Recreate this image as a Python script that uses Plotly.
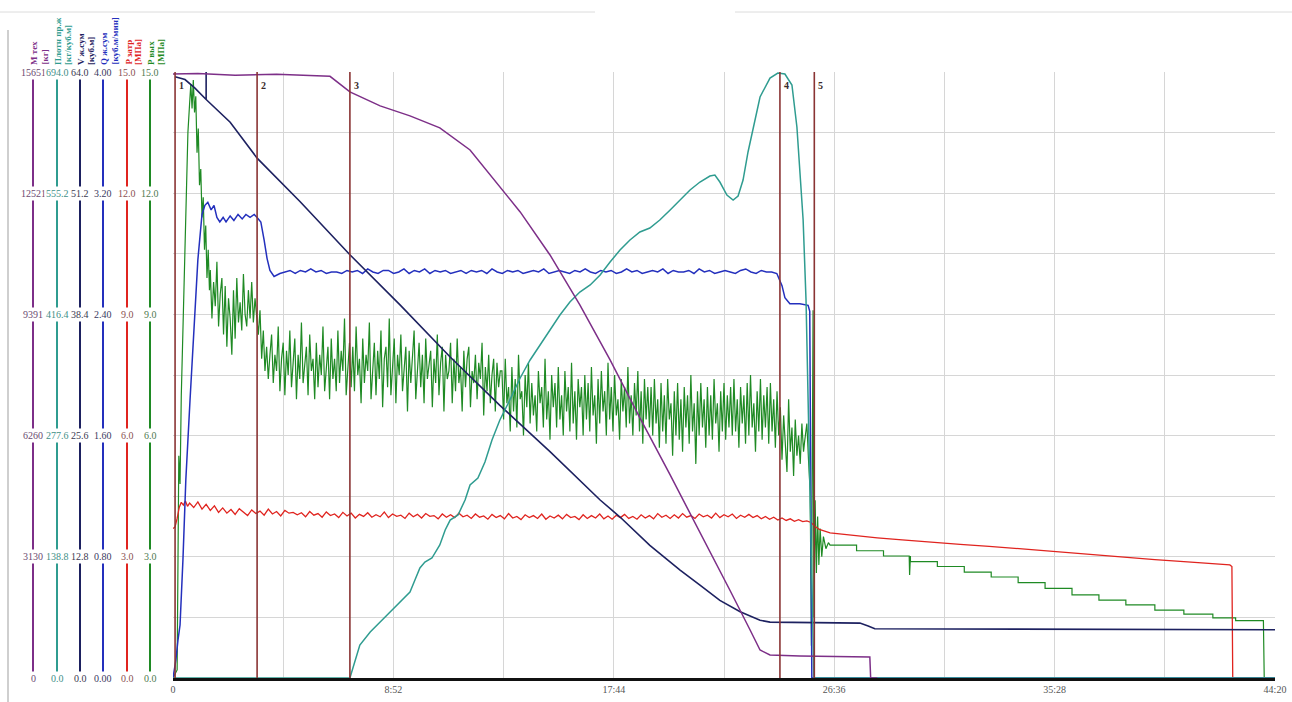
import plotly.graph_objects as go

W, H = 1292, 702
PLOT_TOP, PLOT_BOTTOM = 72, 678
PLOT_LEFT, PLOT_RIGHT = 173, 1275


def grid(start, step, n):
    """Regular sampling times for a logged channel."""
    return [start + step * i for i in range(n)]


# ---------------- time axis (seconds) ----------------
X_TICK_T = [0, 266, 532, 798, 1064, 1330, 1596, 1862, 2128, 2394, 2660]
X_TICK_TEXT = ["0", "", "8:52", "", "17:44", "", "26:36", "", "35:28", "", "44:20"]

# stage markers
EVENT_T = [5, 203, 427, 1465, 1548]
EVENT_LABELS = ["1", "2", "3", "4", "5"]

# ---------------- M тех, kg ----------------
M_T = [0, 60, 150, 250, 330, 379, 427, 500, 572, 644, 717, 765, 838, 910, 982,
       1055, 1127, 1200, 1272, 1344, 1393, 1417, 1441, 1513, 1682, 1684, 1700]
M_V = [15600, 15610, 15570, 15590, 15560, 15540, 15137, 14775, 14517, 14207, 13638,
       12993, 12037, 10926, 9635, 8214, 6716, 5244, 3771, 2273, 1240, 723, 594, 568,
       542, 0, 0]

# ---------------- Плотн пр.ж, kg/m3 ----------------
RHO_T = [0, 427, 451, 476, 500, 524, 548, 572, 584, 596, 608, 625, 644, 657, 669, 688,
         705, 717, 736, 753, 770, 789, 813, 838, 862, 886, 910, 934, 958, 982, 1007,
         1031, 1055, 1079, 1103, 1127, 1151, 1175, 1200, 1224, 1248, 1272, 1296, 1308,
         1320, 1337, 1352, 1364, 1376, 1388, 1405, 1417, 1441, 1460, 1477, 1494, 1506,
         1513, 1521, 1528, 1535, 1542, 1547, 2660]
RHO_V = [0, 0, 37.8, 52.7, 64.1, 75.6, 85.9, 98.5, 112.2, 126.0, 132.8, 137.4, 152.3,
         169.5, 180.9, 186.7, 203.8, 221.0, 229.0, 247.4, 272.6, 295.5, 318.4, 343.6,
         364.2, 381.4, 398.5, 415.7, 430.6, 442.0, 450.1, 461.5, 476.4, 490.1, 501.6,
         510.8, 515.3, 524.5, 536.0, 547.4, 558.9, 568.0, 574.9, 576.0, 568.0, 553.1,
         547.4, 552.0, 570.3, 602.4, 641.3, 665.4, 687.1, 692.8, 691.7, 679.1, 631.0,
         581.8, 524.5, 432.9, 284.0, 123.7, 0, 0]

# ---------------- V ж.сум, m3 ----------------
V_T = [5, 29, 53, 80, 80, 80, 138, 203, 307, 427, 548, 669, 789, 910, 1031, 1079,
       1151, 1224, 1272, 1320, 1369, 1417, 1441, 1658, 1678, 1694, 2660]
V_V = [63.5, 63.2, 62.3, 61.1, 64.0, 61.1, 58.7, 54.9, 50.3, 44.7, 39.4, 33.9, 28.8,
       23.9, 18.8, 17.0, 14.0, 11.4, 9.8, 8.2, 7.0, 6.1, 5.9, 5.8, 5.5, 5.2, 5.1]

# ---------------- Q ж.сум, m3/min ----------------
Q_RISE_T = [0, 7, 12, 17, 24, 31, 41, 51, 60, 70, 77, 84, 92, 99, 106, 113, 121, 128,
            138, 147, 157, 167, 176, 186, 196, 203, 212, 220, 227, 234, 244, 258]
Q_RISE_V = [0, 0.12, 0.25, 0.35, 0.78, 1.31, 1.83, 2.36, 2.76, 3.06, 3.12, 3.14, 3.09,
            3.12, 3.04, 3.01, 3.04, 3.01, 3.05, 3.02, 3.06, 3.03, 3.06, 3.04, 3.06,
            3.04, 3.01, 2.89, 2.77, 2.69, 2.65, 2.67]
Q_PLATEAU_START, Q_PLATEAU_STEP = 270, 12.5
Q_PLATEAU_V = [2.68, 2.69, 2.67, 2.69, 2.68, 2.70, 2.68, 2.69, 2.67, 2.68, 2.68, 2.67,
               2.69, 2.68, 2.69, 2.67, 2.70, 2.68, 2.67, 2.69, 2.69, 2.67, 2.68, 2.70,
               2.67, 2.69, 2.68, 2.70, 2.67, 2.69, 2.68, 2.69, 2.67, 2.68, 2.69, 2.67,
               2.69, 2.68, 2.69, 2.67, 2.70, 2.68, 2.67, 2.69, 2.68, 2.69, 2.67, 2.68,
               2.69, 2.68, 2.70, 2.67, 2.68, 2.69, 2.68, 2.67, 2.69, 2.68, 2.70, 2.68,
               2.67, 2.69, 2.68, 2.69, 2.67, 2.68, 2.70, 2.68, 2.69, 2.67, 2.68, 2.69,
               2.68, 2.70, 2.67, 2.69, 2.68, 2.68, 2.69, 2.67, 2.70, 2.68, 2.69, 2.67,
               2.68, 2.69, 2.68, 2.67, 2.69, 2.70, 2.68, 2.67, 2.69, 2.68, 2.68, 2.67]
Q_END_T = [1470, 1477, 1489, 1513, 1533, 1537, 1542, 2660]
Q_END_V = [2.59, 2.51, 2.47, 2.47, 2.46, 2.42, 0, 0]

# ---------------- P затр, MPa ----------------
PA_START_T = [0, 5, 10, 15, 20, 25, 30, 35]
PA_START_V = [3.70, 3.74, 3.95, 4.22, 4.35, 4.28, 4.38, 4.25]
PA_LOG_START, PA_LOG_STEP = 40, 10
PA_LOG_V = [
    4.33, 4.22, 4.36, 4.18, 4.30, 4.15, 4.26,
    4.10, 4.21, 4.08, 4.17, 4.05, 4.19, 4.11, 4.02, 4.16, 4.07, 4.13, 4.03, 4.18, 4.06,
    4.12, 4.01, 4.15, 4.08, 4.10, 4.04,
    4.09, 3.99, 4.12, 4.03, 4.07, 3.98, 4.11, 4.02, 4.06, 3.97, 4.10, 4.01, 4.08, 3.96,
    4.05, 4.00, 4.09, 3.98, 4.04, 3.99, 4.11, 3.97, 4.06, 4.00, 4.03, 3.95, 4.08, 3.99,
    4.05, 3.96, 4.07, 4.00, 4.02, 3.94, 4.06, 3.98, 4.04, 3.97, 4.08, 3.99,
    4.03, 3.95, 4.06, 3.98, 4.01, 3.93, 4.05, 3.97, 4.02, 3.94, 4.07, 3.96, 4.00, 3.92,
    4.04, 3.97, 4.02, 3.95, 4.06, 3.93, 4.01, 3.96, 4.03, 3.94, 4.05, 3.97, 4.00, 3.92,
    4.04, 3.95, 4.02, 3.96, 4.06, 3.94, 4.01, 3.93, 4.03, 3.97, 4.05, 3.95, 4.00, 3.93,
    4.04, 3.96, 4.02, 3.94, 4.07, 3.98, 4.03, 3.95,
    4.04, 3.96, 4.07, 3.98, 4.02, 3.95, 4.06, 3.99, 4.03, 3.96, 4.08, 3.97, 4.04, 3.99,
    4.06, 3.95, 4.03, 3.98, 4.05, 3.97, 4.02, 3.94, 4.00, 3.93, 3.98, 3.91, 3.96, 3.90,
    3.94, 3.88, 3.92, 3.87, 3.89,
]
PA_END_T = [1540, 1550, 1560, 1586, 1650, 1700, 1760, 1830, 1900, 1970, 2040, 2110,
            2180, 2237, 2300, 2370, 2440, 2500, 2551, 2556, 2558, 2660]
PA_END_V = [3.85, 3.75, 3.68, 3.59, 3.52, 3.47, 3.42, 3.36, 3.31, 3.26, 3.20, 3.14,
            3.08, 3.04, 2.98, 2.93, 2.88, 2.84, 2.80, 2.76, 0, 0]

# ---------------- P вых, MPa ----------------
PO_START_T = [0, 10, 14, 17, 20, 24, 28, 32, 36, 40, 43, 46, 49, 52, 55, 58, 61, 64,
              67, 70, 73, 76, 79, 82, 85, 88]
PO_START_V = [0, 0.2, 5.5, 4.8, 7.0, 8.6, 10.5, 12.0, 13.5, 14.2, 14.7, 14.1, 14.8,
              14.0, 14.4, 13.0, 13.6, 12.2, 12.6, 11.4, 11.9, 10.6, 11.2, 9.9, 10.6, 9.6]
PO_LOG_START, PO_LOG_STEP = 90, 4
PO_LOG_V = [
    # after the first peak
    10.1, 8.9, 9.8, 9.2, 10.3, 8.7, 9.5, 9.9, 8.5, 9.7, 8.2, 9.4, 8.9, 8.0, 9.6, 8.4,
    9.9, 8.8, 9.3, 8.6, 10.0, 9.0, 8.7, 9.6, 8.9, 9.8, 8.8, 9.4,
    9.0, 8.5, 9.1, 7.9, 8.6, 7.6, 8.2, 7.4, 8.0,
    # stage 2
    8.5, 7.3, 8.0, 7.6, 8.7, 7.1, 7.9, 8.3, 7.0, 8.1, 7.5, 8.6, 7.2, 7.8, 8.4, 6.9,
    8.0, 7.4, 8.8, 7.3, 7.7, 8.2, 7.0, 8.5, 7.6, 7.9, 6.9, 8.3, 7.2, 8.0, 7.5, 8.7,
    7.1, 7.8, 8.2, 6.9, 8.4, 7.4, 7.9, 7.1, 8.6, 7.3, 8.1, 7.6, 8.9, 7.0, 7.8, 8.3, 7.2,
    # stage 3
    8.2, 7.1, 8.7, 7.5, 7.9, 6.8, 8.4, 7.3, 8.0, 7.6, 8.8, 6.9, 7.8, 8.3, 7.0, 8.1,
    7.4, 8.6, 6.7, 7.9, 8.2, 7.2, 8.9, 7.0, 7.7, 8.4, 6.8, 8.0, 7.5, 8.5, 7.1, 7.8,
    8.2, 6.6, 8.1, 7.3, 7.9, 8.6, 6.9, 7.6, 8.3, 7.2, 8.0, 6.8, 8.4, 7.4, 7.7, 8.1,
    6.7, 7.9, 7.3, 8.5, 7.0, 7.8, 8.2, 6.6, 8.0, 7.4, 7.6, 8.3, 6.8, 7.9, 7.1, 8.4,
    7.3, 7.7, 6.6, 8.1, 7.2, 7.9, 8.2, 6.7, 7.6, 7.3, 8.0, 6.9, 7.8, 7.4, 8.3, 6.5,
    7.7, 7.1, 8.0, 6.8, 7.5, 7.9, 6.6, 7.8, 7.2, 7.6,
    7.6, 6.4, 7.9, 6.8, 7.2, 6.1, 7.7, 6.6, 7.4, 6.2, 8.0, 6.9, 7.1, 6.0, 7.5, 6.7,
    7.8, 6.3, 7.3, 6.5, 7.0, 6.1, 7.6, 6.8, 7.2, 6.2, 7.9, 6.4, 7.1, 5.9, 7.5, 6.7,
    7.3, 6.2, 7.7, 6.4, 7.0, 6.0, 7.6, 6.6, 7.2, 6.1, 7.8, 6.3, 7.1, 5.9, 7.4, 6.7,
    7.2, 6.0, 7.5, 6.4, 7.3, 6.1, 7.7, 6.5, 7.0, 5.8, 7.4, 6.3, 7.6, 6.6, 7.1, 6.0,
    7.8, 6.4, 7.2, 6.1, 7.5, 6.5, 6.9, 5.9, 7.4, 6.6, 7.2, 6.2, 7.7, 6.3, 7.0, 6.0,
    7.3, 6.5, 7.6, 6.1, 7.1, 5.8, 7.4, 6.4, 7.2, 6.2,
    7.2, 6.0, 7.4, 6.3, 6.9, 5.7, 7.3, 6.1, 7.0, 5.8, 7.4, 6.4, 6.8, 5.5, 7.1, 6.0,
    7.3, 5.9, 6.9, 5.6, 7.2, 6.2, 7.0, 5.8, 7.5, 6.1, 6.8, 5.3, 7.1, 6.0, 7.3, 6.2,
    6.9, 5.7, 7.2, 6.0, 7.0, 5.9, 7.4, 6.3, 6.8, 5.6, 7.1, 6.1, 7.3, 5.9, 7.0, 6.2,
    7.2, 6.0, 7.4, 6.1, 6.9, 5.7, 7.2, 6.3, 7.0, 5.8, 7.3, 6.0, 7.5, 6.2, 6.8, 5.6,
    7.1, 6.1, 7.4, 5.9, 7.0, 6.2, 7.2, 5.8, 7.3, 6.1, 6.9, 5.7, 7.1, 6.0,
    # stage 4
    6.7, 5.4, 6.5, 5.8, 5.1, 6.9, 5.6, 6.2, 5.0, 6.4, 5.5, 6.0, 5.3, 6.3, 5.6,
]
PO_END_T = [1524, 1530, 1534, 1538, 1541, 1545, 1547, 1550, 1553, 1556, 1559, 1562,
            1566, 1570, 1576, 1582]
PO_END_V = [5.8, 6.3, 5.4, 4.6, 0.8, 9.1, 1.5, 4.4, 2.6, 4.0, 2.8, 3.7, 3.0, 3.5,
            3.2, 3.35]
PO_STEP_T = [1586, 1650, 1650, 1715, 1715, 1777, 1778, 1780, 1780, 1845, 1845, 1910,
             1910, 1975, 1975, 2040, 2040, 2105, 2105, 2170, 2170, 2235, 2235, 2300,
             2300, 2370, 2370, 2440, 2440, 2510, 2510, 2565, 2565, 2632, 2634, 2660]
PO_STEP_V = [3.29, 3.29, 3.15, 3.15, 3.02, 3.02, 2.55, 3.02, 2.88, 2.88, 2.76, 2.76,
             2.62, 2.62, 2.50, 2.50, 2.36, 2.36, 2.22, 2.22, 2.06, 2.06, 1.93, 1.93,
             1.81, 1.81, 1.68, 1.68, 1.58, 1.58, 1.49, 1.49, 1.42, 1.42, 0, 0]

# ---------------- left scale columns ----------------
M_TICKS = ["0", "3130", "6260", "9391", "12521", "15651"]
RHO_TICKS = ["0.0", "138.8", "277.6", "416.4", "555.2", "694.0"]
V_TICKS = ["0.0", "12.8", "25.6", "38.4", "51.2", "64.0"]
Q_TICKS = ["0.00", "0.80", "1.60", "2.40", "3.20", "4.00"]
PA_TICKS = ["0.0", "3.0", "6.0", "9.0", "12.0", "15.0"]
PO_TICKS = ["0.0", "3.0", "6.0", "9.0", "12.0", "15.0"]

PURPLE = "#7d2f88"
TEAL = "#2f9c90"
NAVY = "#1d2160"
BLUE = "#2430bd"
RED = "#e0241f"
GREEN = "#1f8a24"
EVENT_COLOR = "#8a3434"
GRID = "#d6d6d6"
FONT = "Liberation Serif, Times New Roman, serif"

# column definitions: axis id, pixel x, colour, name, unit, ticks, range max, tick colour
COLUMNS = [
    ("y6", 33, PURPLE, "М тех", "[кг]", M_TICKS, 15651, "#6a4a70"),
    ("y5", 57, TEAL, "Плотн пр.ж", "[кг/куб.м]", RHO_TICKS, 694.0, "#3f8f88"),
    ("y4", 80, NAVY, "V ж.сум", "[куб.м]", V_TICKS, 64.0, "#3a3a50"),
    ("y3", 103, BLUE, "Q ж.сум", "[куб.м/мин]", Q_TICKS, 4.0, "#3a3a60"),
    ("y2", 127, RED, "P затр", "[МПа]", PA_TICKS, 15.0, "#8a5050"),
    ("y", 150, GREEN, "P вых", "[МПа]", PO_TICKS, 15.0, "#4f7a50"),
]

pa_t = PA_START_T + grid(PA_LOG_START, PA_LOG_STEP, len(PA_LOG_V)) + PA_END_T
pa_v = PA_START_V + PA_LOG_V + PA_END_V
po_t = PO_START_T + grid(PO_LOG_START, PO_LOG_STEP, len(PO_LOG_V)) + PO_END_T + PO_STEP_T
po_v = PO_START_V + PO_LOG_V + PO_END_V + PO_STEP_V
q_t = Q_RISE_T + grid(Q_PLATEAU_START, Q_PLATEAU_STEP, len(Q_PLATEAU_V)) + Q_END_T
q_v = Q_RISE_V + Q_PLATEAU_V + Q_END_V

fig = go.Figure()


def add_line(t, v, color, axis, width=1.4):
    fig.add_trace(go.Scatter(x=t, y=v, mode="lines", yaxis=axis,
                             line=dict(color=color, width=width),
                             hoverinfo="skip", showlegend=False))


add_line(RHO_T, RHO_V, TEAL, "y5", 1.5)
add_line(M_T, M_V, PURPLE, "y6", 1.5)
add_line(po_t, po_v, GREEN, "y", 1.2)
add_line(pa_t, pa_v, RED, "y2", 1.3)
add_line(q_t, q_v, BLUE, "y3", 1.5)
add_line(V_T, V_V, NAVY, "y4", 1.6)

layout_axes = {}
for axis_id, px, color, name, unit, ticks, top, tick_color in COLUMNS:
    key = "yaxis" if axis_id == "y" else "yaxis" + axis_id[1:]
    cfg = dict(range=[0, top], anchor="free", position=px / W, showline=True,
               linecolor=color, linewidth=2, showticklabels=False, ticks="",
               zeroline=False, fixedrange=True, automargin=False)
    if axis_id == "y":
        cfg.update(showgrid=True, gridcolor=GRID, gridwidth=1, tickmode="linear",
                   tick0=0, dtick=1.5)
    else:
        cfg.update(overlaying="y", showgrid=False)
    layout_axes[key] = cfg

annotations = []
header_y = 1 + (PLOT_TOP - 67) / (PLOT_BOTTOM - PLOT_TOP)
for axis_id, px, color, name, unit, ticks, top, tick_color in COLUMNS:
    for label in ticks:
        annotations.append(dict(
            x=px / W, xref="paper", y=float(label), yref=axis_id, text=label,
            showarrow=False, xanchor="center", yanchor="middle",
            font=dict(family=FONT, size=10, color=tick_color),
            bgcolor="white", borderpad=1))
    annotations.append(dict(
        x=(px + 1) / W, xref="paper", y=header_y, yref="paper",
        text="<b>" + name + "</b>", textangle=-90, showarrow=False,
        xanchor="center", yanchor="bottom",
        font=dict(family=FONT, size=9, color=color)))
    annotations.append(dict(
        x=(px + 11) / W, xref="paper", y=header_y, yref="paper",
        text="<b>" + unit + "</b>", textangle=-90, showarrow=False,
        xanchor="center", yanchor="bottom",
        font=dict(family=FONT, size=9, color=color)))

shapes = []
for t, label in zip(EVENT_T, EVENT_LABELS):
    shapes.append(dict(type="line", xref="x", yref="paper", x0=t, x1=t, y0=0, y1=1,
                       line=dict(color=EVENT_COLOR, width=1.6), layer="above"))
    annotations.append(dict(x=t, xref="x", y=0.99, yref="paper", text="<b>" + label + "</b>",
                            showarrow=False, xanchor="left", yanchor="top", xshift=2,
                            font=dict(family=FONT, size=10, color="#3a2a2a")))

# window frame lines around the chart panel
span = PLOT_BOTTOM - PLOT_TOP
shapes.append(dict(type="line", xref="paper", yref="paper", x0=8 / W, x1=8 / W,
                   y0=(PLOT_BOTTOM - H) / span, y1=(PLOT_BOTTOM - 30) / span,
                   line=dict(color="#cfcfcf", width=2), layer="below"))
shapes.append(dict(type="line", xref="paper", yref="paper", x0=0, x1=595 / W,
                   y0=(PLOT_BOTTOM - 12) / span, y1=(PLOT_BOTTOM - 12) / span,
                   line=dict(color="#dcdcdc", width=1), layer="below"))
shapes.append(dict(type="line", xref="paper", yref="paper", x0=735 / W, x1=1,
                   y0=(PLOT_BOTTOM - 12) / span, y1=(PLOT_BOTTOM - 12) / span,
                   line=dict(color="#dcdcdc", width=1), layer="below"))

fig.update_layout(
    width=W, height=H, autosize=False,
    margin=dict(l=0, r=0, t=PLOT_TOP, b=H - PLOT_BOTTOM, autoexpand=False),
    paper_bgcolor="white", plot_bgcolor="white",
    xaxis=dict(domain=[PLOT_LEFT / W, PLOT_RIGHT / W], range=[0, 2660],
               tickmode="array", tickvals=X_TICK_T, ticktext=X_TICK_TEXT,
               showgrid=True, gridcolor=GRID, gridwidth=1, zeroline=False,
               showline=True, linecolor="#111111", linewidth=3, ticks="",
               automargin=False,
               tickfont=dict(family=FONT, size=10, color="#555555"), fixedrange=True),
    annotations=annotations,
    shapes=shapes,
    **layout_axes,
)

fig.write_html("out.html", config={"displayModeBar": False})
